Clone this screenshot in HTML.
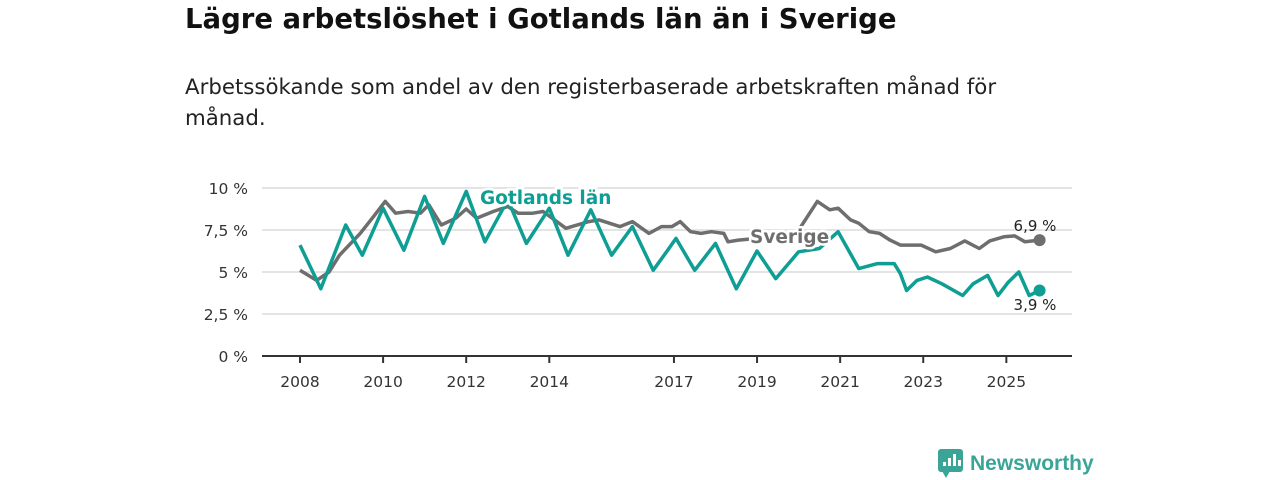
<!DOCTYPE html>
<html><head><meta charset="utf-8">
<style>
body{margin:0;width:1280px;height:480px;background:#fff;font-family:"DejaVu Sans","Liberation Sans",sans-serif;overflow:hidden;position:relative}
h1{position:absolute;left:185px;top:3px;margin:0;font-size:27.5px;font-weight:bold;color:#111;white-space:nowrap}
p{position:absolute;left:185px;top:72px;margin:0;font-size:21.3px;line-height:31px;color:#222;width:850px}
svg{position:absolute;left:0;top:0}
</style></head><body>
<h1>Lägre arbetslöshet i Gotlands län än i Sverige</h1>
<p>Arbetssökande som andel av den registerbaserade arbetskraften månad för månad.</p>
<svg id="chart" width="1280" height="480"></svg>
<script>
const yTicks=[0,2.5,5,7.5,10];
const yTickLabels=["0 %","2,5 %","5 %","7,5 %","10 %"];
const xTicks=[2008,2010,2012,2014,2017,2019,2021,2023,2025];
const gotYears=[2008,2008.5,2009.1,2009.5,2010,2010.5,2011,2011.45,2012,2012.45,2013,2013.45,2014,2014.45,2015,2015.5,2016,2016.5,2016.85,2017.05,2017.5,2018,2018.5,2019,2019.45,2020,2020.5,2020.95,2021.45,2021.9,2022.3,2022.45,2022.6,2022.85,2023.1,2023.45,2023.95,2024.2,2024.55,2024.8,2025.05,2025.3,2025.55,2025.8];
const gotVals=[6.6,4.0,7.8,6.0,8.8,6.3,9.5,6.7,9.8,6.8,9.3,6.7,8.8,6.0,8.7,6.0,7.7,5.1,6.3,7.0,5.1,6.7,4.0,6.25,4.6,6.2,6.4,7.4,5.2,5.5,5.5,4.9,3.9,4.5,4.7,4.3,3.6,4.3,4.8,3.6,4.4,5.0,3.6,3.9];
const sveYears=[2008,2008.4,2008.7,2008.95,2009.45,2009.8,2010.05,2010.3,2010.6,2010.9,2011.1,2011.4,2011.75,2012,2012.25,2012.65,2013,2013.25,2013.6,2013.85,2014.4,2014.95,2015.2,2015.7,2016,2016.4,2016.7,2016.95,2017.15,2017.4,2017.65,2017.9,2018.2,2018.3,2018.55,2019,2019.5,2019.95,2020.45,2020.75,2020.95,2021.25,2021.45,2021.7,2021.95,2022.2,2022.45,2022.95,2023.3,2023.65,2024,2024.35,2024.6,2024.95,2025.2,2025.45,2025.8];
const sveVals=[5.1,4.5,5.0,6.0,7.3,8.4,9.2,8.5,8.6,8.5,9.0,7.8,8.2,8.75,8.2,8.6,8.9,8.5,8.5,8.6,7.6,8.0,8.1,7.7,8.0,7.3,7.7,7.7,8.0,7.4,7.3,7.4,7.3,6.8,6.9,7.0,6.9,7.3,9.2,8.7,8.8,8.1,7.9,7.4,7.3,6.9,6.6,6.6,6.2,6.4,6.85,6.4,6.85,7.1,7.15,6.8,6.9];
const NS="http://www.w3.org/2000/svg";
const svg=document.getElementById('chart');
const X0=262,X1=1072;
function xs(t){return 300+(t-2008)*41.55;}
function ys(v){return 356-v*16.8;}
function mk(tag,attrs,parent){const e=document.createElementNS(NS,tag);for(const k in attrs)e.setAttribute(k,attrs[k]);(parent||svg).appendChild(e);return e;}
yTicks.forEach((v,i)=>{
 if(v>0){const g=mk('line',{x1:X0,x2:X1,y1:ys(v),y2:ys(v),stroke:'#dcdcdc','stroke-width':1.5});
 
 }
 const t=mk('text',{x:248,y:ys(v)+6,'text-anchor':'end','font-size':15.5,fill:'#333'});t.textContent=yTickLabels[i];
 
 
});
const ax=mk('line',{x1:X0,x2:X1,y1:356,y2:356,stroke:'#333','stroke-width':2});


xTicks.forEach(yr=>{
 const l=mk('line',{x1:xs(yr),x2:xs(yr),y1:356,y2:363,stroke:'#333','stroke-width':2});
 
 
 const t=mk('text',{x:xs(yr),y:387,'text-anchor':'middle','font-size':15.5,fill:'#333'});t.textContent=yr;
 
 
});
function line(years,vals,color,name){
 const d=years.map((t,i)=>(i?'L':'M')+xs(t).toFixed(1)+','+ys(vals[i]).toFixed(1)).join('');
 const p=mk('path',{d:d,fill:'none',stroke:color,'stroke-width':3.5,'stroke-linejoin':'round'});
 
 
 const n=years.length-1;
 const c=mk('circle',{cx:xs(years[n]),cy:ys(vals[n]),r:6,fill:color});
 
 
}
line(sveYears,sveVals,'#6e6e6e','sverige-line');
line(gotYears,gotVals,'#0f9e93','gotland-line');
function label(txt,x,y,color,size,bold,anchor,name){
 const t=mk('text',{x:x,y:y,'font-size':size,'font-weight':bold?'bold':'normal',fill:color,'text-anchor':anchor||'start',stroke:'#fff','stroke-width':bold?5:0,'paint-order':'stroke'});
 t.textContent=txt;
 
 
}
label('Gotlands län',480,204,'#0f9e93',18.5,true,'start','gotland-label');
label('Sverige',750,243,'#6e6e6e',18.5,true,'start','sverige-label');
label('6,9 %',1035,231,'#222',15,false,'middle','sverige-end-value');
label('3,9 %',1035,310,'#222',15,false,'middle','gotland-end-value');
const lg=mk('g',{});


mk('rect',{x:938,y:449,width:25,height:23,rx:3,fill:'#3aa597'},lg);
mk('path',{d:'M942,471 L946,478 L950,471 Z',fill:'#3aa597'},lg);
[[943,462,4],[948,458,8],[953,454,12],[958,460,6]].forEach(b=>mk('rect',{x:b[0],y:b[1],width:3,height:b[2],fill:'#fff'},lg));
const lt=mk('text',{x:970,y:470,'font-size':21,'font-weight':'bold',fill:'#3aa597','font-family':'Liberation Sans, sans-serif'},lg);lt.textContent='Newsworthy';
</script>
</body></html>
